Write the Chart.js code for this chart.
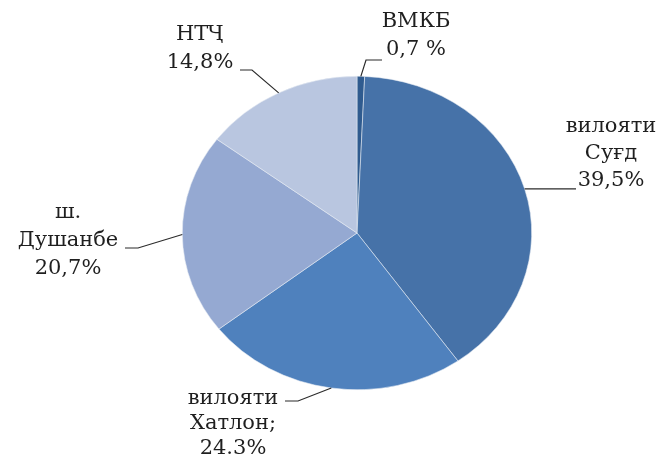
<!DOCTYPE html>
<html>
<head>
<meta charset="utf-8">
<script src="https://cdn.jsdelivr.net/npm/chart.js@4/dist/chart.umd.min.js"></script>
<style>
  html, body { margin: 0; padding: 0; background: #fff; overflow: hidden; }
</style>
</head>
<body>
<canvas id="pieChart" width="659" height="459"></canvas>
<script>
// Data
const categories = ['ВМКБ', 'вилояти Суғд', 'вилояти Хатлон', 'ш. Душанбе', 'НТҶ'];
const shares = [0.7, 39.5, 24.3, 20.7, 14.8];
const labelTexts = [
    ['ВМКБ', '0,7 %'],
    ['вилояти', 'Суғд', '39,5%'],
    ['вилояти', 'Хатлон;', '24.3%'],
    ['ш.', 'Душанбе', '20,7%'],
    ['НТҶ', '14,8%']
];
const sliceColors = ['#2f5b8f', '#4672a8', '#4f81bd', '#95a9d2', '#b9c6e0'];

// The pie is drawn slightly flattened (tilted look)
const flatten = 157 / 175;

// Label layout: elbow point, line end, text centre, first line y, line gap
const labelLayout = [
    { elbow: [366, 60], end: [382, 60], tx: 416, ty: 22, gap: 28 },
    { elbow: null, end: [576, 188], tx: 611, ty: 127, gap: 27 },
    { elbow: [298, 401], end: [285, 401], tx: 233, ty: 399, gap: 25 },
    { elbow: [138, 248], end: [125, 248], tx: 68, ty: 213, gap: 28 },
    { elbow: [252, 70], end: [240, 70], tx: 200, ty: 35, gap: 28 }
];

const flattenPie = {
    id: 'flattenPie',
    beforeDatasetsDraw(chart) {
        const arc = chart.getDatasetMeta(0).data[0];
        const ctx = chart.ctx;
        ctx.save();
        ctx.translate(0, arc.y);
        ctx.scale(1, flatten);
        ctx.translate(0, -arc.y);
    },
    afterDatasetsDraw(chart) {
        chart.ctx.restore();
    }
};

const leaderLabels = {
    id: 'leaderLabels',
    afterDraw(chart) {
        const ctx = chart.ctx;
        const arcs = chart.getDatasetMeta(0).data;
        ctx.save();
        arcs.forEach((arc, i) => {
            const p = arc.getProps(['x', 'y', 'startAngle', 'endAngle', 'outerRadius'], true);
            const mid = (p.startAngle + p.endAngle) / 2;
            const sx = p.x + Math.cos(mid) * p.outerRadius;
            const sy = p.y + Math.sin(mid) * p.outerRadius * flatten;
            const lay = labelLayout[i];

            // leader line
            ctx.strokeStyle = '#2b2b2b';
            ctx.lineWidth = 1.2;
            ctx.beginPath();
            ctx.moveTo(sx, sy);
            if (lay.elbow) {
                ctx.lineTo(lay.elbow[0], lay.elbow[1]);
                ctx.lineTo(lay.end[0], lay.end[1]);
            } else {
                ctx.lineTo(lay.end[0], sy);
            }
            ctx.stroke();

            // label text
            ctx.fillStyle = '#1f1f1f';
            ctx.font = '21px "DejaVu Serif"';
            ctx.textAlign = 'center';
            ctx.textBaseline = 'middle';
            labelTexts[i].forEach((line, k) => {
                ctx.fillText(line, lay.tx, lay.ty + k * lay.gap);
            });
        });
        ctx.restore();
    }
};

new Chart(document.getElementById('pieChart').getContext('2d'), {
    type: 'pie',
    data: {
        labels: categories,
        datasets: [{
            data: shares,
            backgroundColor: sliceColors,
            borderColor: '#e6ebf3',
            borderWidth: 0.6
        }]
    },
    options: {
        responsive: false,
        animation: false,
        layout: {
            padding: { top: 58, bottom: 51, left: 182, right: 127 }
        },
        plugins: {
            legend: { display: false },
            tooltip: { enabled: false }
        }
    },
    plugins: [flattenPie, leaderLabels]
});
</script>
</body>
</html>
